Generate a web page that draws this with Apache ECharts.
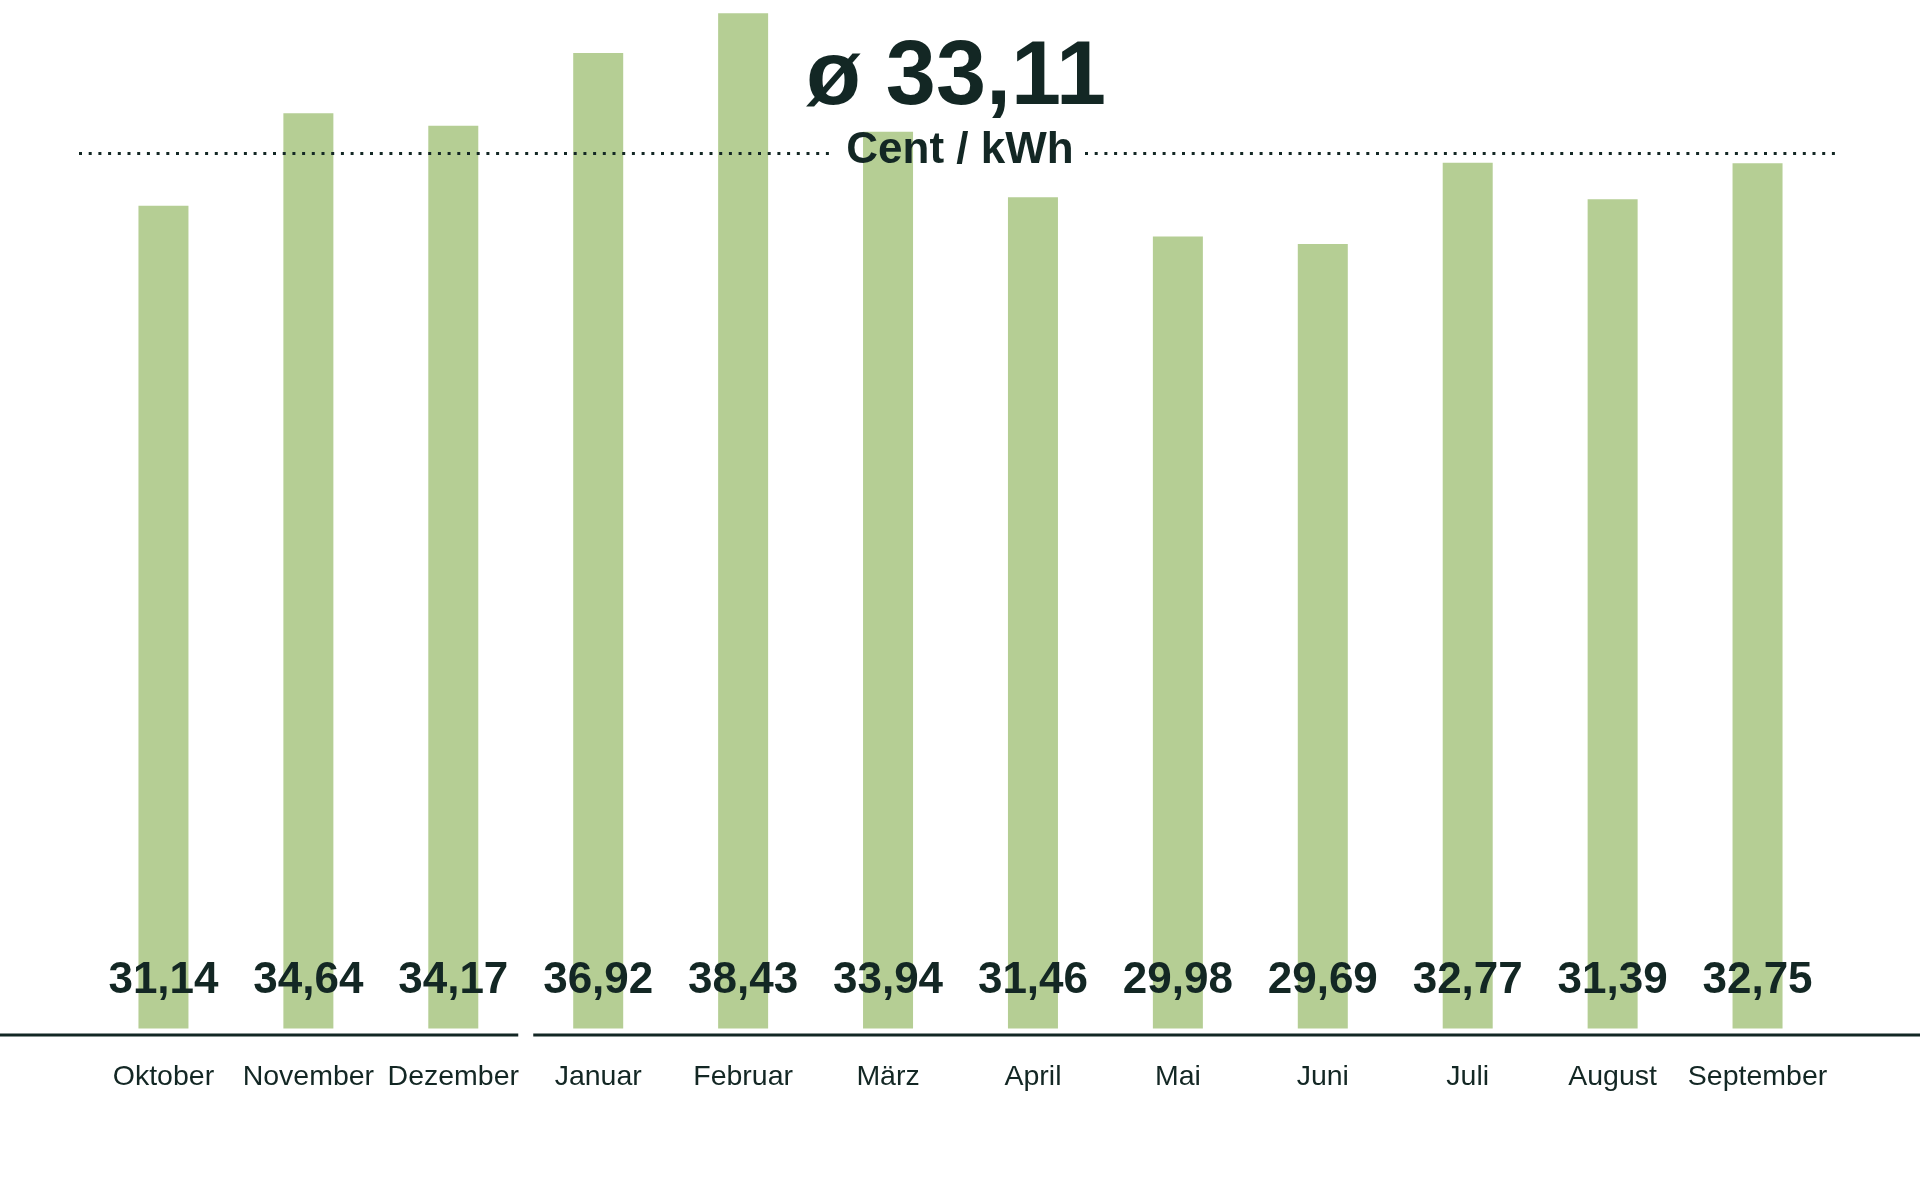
<!DOCTYPE html>
<html>
<head>
<meta charset="utf-8">
<script src="https://cdn.jsdelivr.net/npm/echarts@6/dist/echarts.min.js"></script>
<style>
html,body{margin:0;padding:0;background:#ffffff;}
#chart{width:1920px;height:1200px;}
</style>
</head>
<body>
<div id="chart"></div>
<script>
// ---- data ----
const months = ['Oktober','November','Dezember','Januar','Februar','März','April','Mai','Juni','Juli','August','September'];
const prices = [31.14, 34.64, 34.17, 36.92, 38.43, 33.94, 31.46, 29.98, 29.69, 32.77, 31.39, 32.75];
const averagePrice = 33.11;
const unitLabel = 'Cent / kWh';
const yearBreakAfter = 'Dezember';

// ---- style ----
const DARK = '#132724';
const GREEN = '#b5ce94';
const FONT = '"Liberation Sans", Arial, Helvetica, sans-serif';
const fmt = v => v.toFixed(2).replace('.', ',');

const chart = echarts.init(document.getElementById('chart'), null, {renderer: 'canvas'});

const option = {
  animation: false,
  backgroundColor: '#ffffff',
  grid: {left: 91, right: 90, top: 11.3, bottom: 171.5, containLabel: false},
  xAxis: {
    type: 'category',
    data: months,
    axisLine: {show: false},
    axisTick: {show: false},
    splitLine: {show: false},
    axisLabel: {
      interval: 0,
      margin: 34.5,
      color: DARK,
      fontFamily: FONT,
      fontSize: 28.5,
      fontWeight: 'normal'
    }
  },
  yAxis: {
    type: 'value',
    min: 0,
    max: 38.5,
    show: false,
    splitLine: {show: false}
  },
  series: [{
    type: 'bar',
    data: prices,
    barWidth: 50,
    itemStyle: {color: GREEN},
    label: {
      show: true,
      position: 'insideBottom',
      distance: 25.5,
      formatter: p => fmt(p.value),
      color: DARK,
      fontFamily: FONT,
      fontWeight: 'bold',
      fontSize: 44
    },
    markLine: {
      silent: true,
      symbol: ['none', 'none'],
      label: {show: false},
      lineStyle: {color: DARK, width: 3, type: [3, 6.7], opacity: 1},
      emphasis: {disabled: true},
      data: [
        [{x: 79, yAxis: averagePrice}, {x: 835, yAxis: averagePrice}],
        [{x: 1085, yAxis: averagePrice}, {x: 1840, yAxis: averagePrice}]
      ]
    }
  }]
};
chart.setOption(option);

// decorative baseline with a gap at the year boundary, placed via the axis scale
const bi = months.indexOf(yearBreakAfter);
const xa = chart.convertToPixel({xAxisIndex: 0}, bi);
const xb = chart.convertToPixel({xAxisIndex: 0}, bi + 1);
const gapX = (xa + xb) / 2;
const baseY = chart.convertToPixel({yAxisIndex: 0}, 0) + 6.5;

chart.setOption({
  graphic: [
    {type: 'line', z: 10, shape: {x1: 0, y1: baseY, x2: gapX - 7.5, y2: baseY}, style: {stroke: DARK, lineWidth: 3}},
    {type: 'line', z: 10, shape: {x1: gapX + 7.5, y1: baseY, x2: 1920, y2: baseY}, style: {stroke: DARK, lineWidth: 3}},
    {type: 'text', z: 20, x: 956, y: 79,
      style: {text: 'ø ' + fmt(averagePrice), fill: DARK, font: 'bold 90px ' + FONT,
        align: 'center', verticalAlign: 'middle', textAlign: 'center', textVerticalAlign: 'middle'}},
    {type: 'text', z: 20, x: 960, y: 150.5,
      style: {text: unitLabel, fill: DARK, font: 'bold 44px ' + FONT,
        align: 'center', verticalAlign: 'middle', textAlign: 'center', textVerticalAlign: 'middle'}}
  ]
});
</script>
</body>
</html>
